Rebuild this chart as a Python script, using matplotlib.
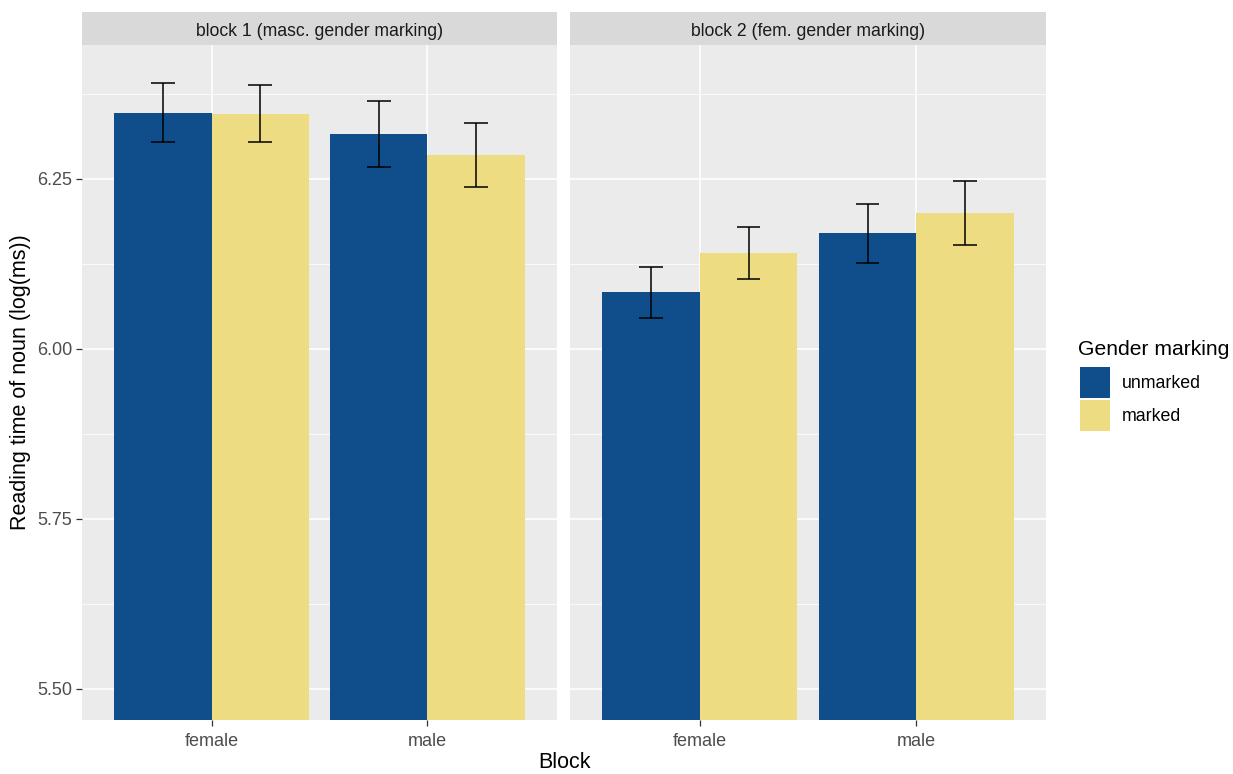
import matplotlib
matplotlib.use("Agg")
import matplotlib.pyplot as plt
from matplotlib.patches import Rectangle
import numpy as np

plt.rcParams['font.family'] = ['Liberation Sans', 'DejaVu Sans']

# ---- data ----
blocks = ["block 1 (masc. gender marking)", "block 2 (fem. gender marking)"]
categories = ["female", "male"]
groups = ["unmarked", "marked"]
colors = ["#104E8B", "#EEDC82"]
# means[block][category][group]
means_block1 = [[6.347, 6.346], [6.316, 6.285]]
means_block2 = [[6.083, 6.141], [6.170, 6.200]]
se_block1 = [[0.0434, 0.0424], [0.0488, 0.0466]]
se_block2 = [[0.0375, 0.0382], [0.0436, 0.0475]]
means = [means_block1, means_block2]
ses = [se_block1, se_block2]
yticks = [5.50, 5.75, 6.00, 6.25]
yminor = [5.625, 5.875, 6.125, 6.375]
ylim = (5.454, 6.447)

W, H = 1233, 774
fig = plt.figure(figsize=(W / 100, H / 100), dpi=100)
fig.patch.set_facecolor("white")

def fx(px):
    return px / W

def fy(py):
    return 1 - py / H

panel_x = [(82, 557), (570, 1046)]
ptop, pbot = 45, 720
strip_top = 12

dodge = 0.9
bw = dodge / 2
for b in range(2):
    x0, x1 = panel_x[b]
    ax = fig.add_axes([fx(x0), fy(pbot), fx(x1 - x0), (pbot - ptop) / H])
    ax.set_facecolor("#EBEBEB")
    for s in ax.spines.values():
        s.set_visible(False)
    ax.set_xlim(0.4, 2.6)
    ax.set_ylim(*ylim)
    ax.set_yticks(yticks)
    ax.set_yticks(yminor, minor=True)
    ax.set_xticks([1, 2])
    ax.grid(which="major", color="white", lw=1.1, zorder=0)
    ax.grid(which="minor", axis="y", color="white", lw=0.55, zorder=0)
    ax.set_axisbelow(True)
    ax.tick_params(which="minor", length=0)
    ax.tick_params(axis="x", which="major", length=4, width=0.9, color="#333333",
                   labelsize=13, labelcolor="#4D4D4D", pad=5.5)
    ax.set_xticklabels(categories)
    if b == 0:
        ax.tick_params(axis="y", which="major", length=4, width=0.9, color="#333333",
                       labelsize=13, labelcolor="#4D4D4D", pad=3)
        ax.set_yticklabels([f"{v:.2f}" for v in yticks])
    else:
        ax.tick_params(axis="y", which="major", length=0, labelleft=False)
    for ci in range(2):
        for gi in range(2):
            xc = ci + 1 + (gi - 0.5) * bw
            m = means[b][ci][gi]
            e = ses[b][ci][gi]
            ax.bar(xc, m, width=bw, color=colors[gi], zorder=2)
            ax.errorbar(xc, m, yerr=e, fmt="none", ecolor="black", elinewidth=1.1,
                        capsize=0, zorder=3)
            ax.hlines([m - e, m + e], xc - 0.055, xc + 0.055, color="black", lw=1.1, zorder=3)
    # strip
    sax = fig.add_axes([fx(x0), fy(ptop), fx(x1 - x0), (ptop - strip_top) / H])
    sax.set_facecolor("#D9D9D9")
    sax.set_xticks([])
    sax.set_yticks([])
    for s in sax.spines.values():
        s.set_visible(False)
    sax.text(0.5, 0.40, blocks[b], ha="center", va="center", fontsize=12.7,
             color="#1A1A1A", transform=sax.transAxes)

# axis titles
fig.text(fx((82 + 1046) / 2), fy(762), "Block", ha="center", va="center",
         fontsize=15.5, color="black")
fig.text(fx(21), fy((ptop + pbot) / 2), "Reading time of noun (log(ms))", ha="center",
         va="center", rotation=90, fontsize=15.5, color="black")

# legend
fig.text(fx(1078), fy(349), "Gender marking", ha="left", va="center", fontsize=15.2,
         color="black")
key_tops = [367, 400]
for gi in range(2):
    kt = key_tops[gi]
    fig.patches.append(Rectangle((fx(1080), fy(kt + 31)), fx(30), 31 / H,
                                 transform=fig.transFigure, facecolor=colors[gi],
                                 edgecolor="none"))
    fig.text(fx(1122), fy(kt + 17), groups[gi], ha="left", va="center",
             fontsize=12.8, color="black")

fig.savefig("out.png", dpi=100)
